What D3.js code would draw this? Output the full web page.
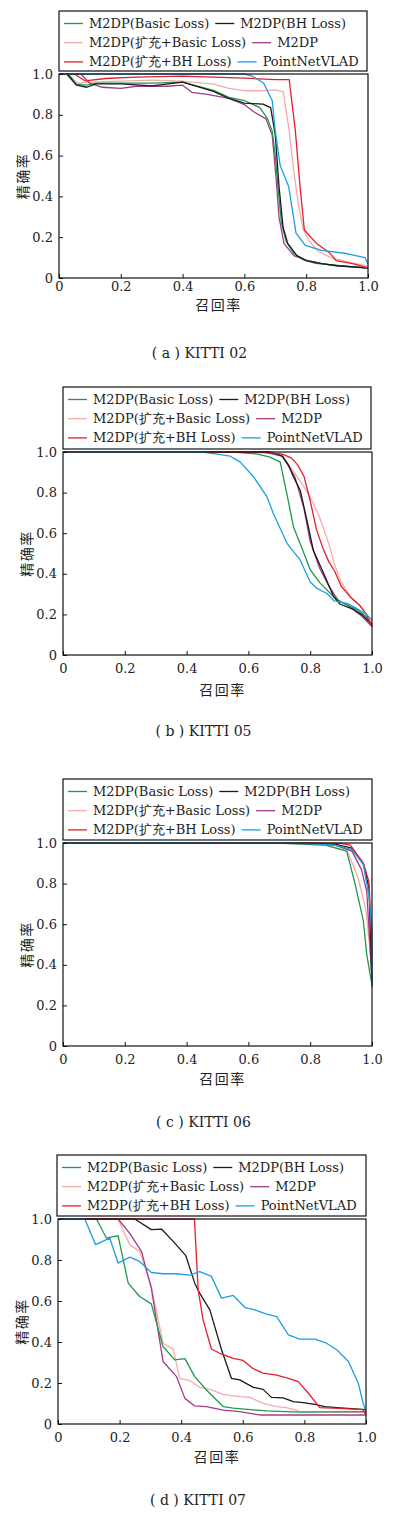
<!DOCTYPE html>
<html>
<head>
<meta charset="utf-8">
<script src="https://cdn.jsdelivr.net/npm/d3@7"></script>
<style>
  body { margin: 0; background: #fff; }
  svg { display: block; }
</style>
</head>
<body>
<svg id="chart" width="396" height="1514"></svg>
<script>
// Legend labels and colours (same for all four panels)
const seriesNames = ["M2DP(Basic Loss)", "M2DP(BH Loss)", "M2DP(扩充+Basic Loss)", "M2DP", "M2DP(扩充+BH Loss)", "PointNetVLAD"];
const seriesColors = ["#1f9a4c", "#1a1a1a", "#f5abab", "#a23a8c", "#e41f2b", "#1d9fe4"];
const xTicks = [0, 0.2, 0.4, 0.6, 0.8, 1.0];
const yTicks = [0, 0.2, 0.4, 0.6, 0.8, 1.0];

// KITTI 02  [recall, precision]
const k02Basic = [[0,1],[0.03,1],[0.055,0.95],[0.09,0.945],[0.12,0.955],[0.2,0.955],[0.3,0.955],[0.4,0.96],[0.5,0.92],[0.55,0.885],[0.6,0.87],[0.65,0.835],[0.675,0.78],[0.69,0.72],[0.7,0.6],[0.71,0.42],[0.72,0.27],[0.735,0.18],[0.76,0.12],[0.79,0.09],[0.83,0.072],[0.9,0.062],[1.0,0.05]];
const k02BH = [[0,1],[0.025,1],[0.057,0.945],[0.09,0.935],[0.12,0.952],[0.2,0.952],[0.3,0.942],[0.4,0.96],[0.5,0.915],[0.55,0.88],[0.6,0.857],[0.66,0.852],[0.685,0.835],[0.7,0.7],[0.712,0.45],[0.725,0.25],[0.74,0.17],[0.77,0.11],[0.8,0.085],[0.85,0.07],[0.9,0.06],[1.0,0.048]];
const k02ExtBasic = [[0,1],[0.03,1],[0.06,0.955],[0.1,0.96],[0.2,0.965],[0.3,0.97],[0.4,0.965],[0.5,0.95],[0.55,0.93],[0.6,0.918],[0.65,0.918],[0.7,0.922],[0.726,0.912],[0.745,0.72],[0.76,0.52],[0.775,0.36],[0.79,0.24],[0.81,0.18],[0.84,0.13],[0.88,0.1],[0.93,0.08],[1.0,0.058]];
const k02M2DP = [[0,1],[0.07,1],[0.1,0.955],[0.14,0.935],[0.2,0.93],[0.25,0.94],[0.3,0.94],[0.35,0.94],[0.4,0.945],[0.43,0.91],[0.48,0.9],[0.55,0.88],[0.6,0.85],[0.63,0.815],[0.67,0.78],[0.69,0.7],[0.702,0.5],[0.712,0.3],[0.728,0.17],[0.76,0.11],[0.8,0.088],[0.85,0.07],[0.9,0.06],[1.0,0.05]];
const k02ExtBH = [[0,1],[0.05,1],[0.085,0.966],[0.15,0.978],[0.25,0.985],[0.4,0.99],[0.5,0.985],[0.6,0.98],[0.7,0.972],[0.745,0.972],[0.765,0.72],[0.78,0.45],[0.794,0.235],[0.833,0.17],[0.876,0.123],[0.897,0.085],[0.95,0.07],[1.0,0.05]];
const k02PNV = [[0,1],[0.6,1],[0.625,0.99],[0.662,0.956],[0.69,0.87],[0.7,0.72],[0.716,0.55],[0.743,0.45],[0.767,0.22],[0.797,0.16],[0.85,0.135],[0.93,0.12],[0.99,0.1],[1.0,0.07]];

// KITTI 05
const k05Basic = [[0,1],[0.55,1],[0.63,0.99],[0.67,0.975],[0.703,0.95],[0.725,0.79],[0.746,0.63],[0.775,0.52],[0.8,0.42],[0.833,0.353],[0.876,0.287],[0.9,0.26],[0.95,0.225],[0.98,0.19],[1.0,0.15]];
const k05BH = [[0,1],[0.67,1],[0.71,0.98],[0.73,0.935],[0.746,0.877],[0.768,0.81],[0.79,0.66],[0.81,0.516],[0.844,0.4],[0.876,0.287],[0.897,0.25],[0.94,0.225],[0.97,0.195],[1.0,0.15]];
const k05ExtBasic = [[0,1],[0.6,1],[0.7,0.99],[0.74,0.92],[0.77,0.85],[0.8,0.78],[0.83,0.68],[0.86,0.55],[0.88,0.44],[0.9,0.36],[0.93,0.29],[0.96,0.245],[0.99,0.18],[1.0,0.145]];
const k05M2DP = [[0,1],[0.65,1],[0.71,0.98],[0.75,0.88],[0.78,0.72],[0.8,0.56],[0.83,0.43],[0.86,0.34],[0.89,0.27],[0.92,0.245],[0.96,0.2],[1.0,0.14]];
const k05ExtBH = [[0,1],[0.65,1],[0.71,0.99],[0.74,0.97],[0.76,0.935],[0.78,0.88],[0.8,0.76],[0.82,0.62],[0.84,0.53],[0.86,0.46],[0.88,0.41],[0.9,0.34],[0.93,0.285],[0.96,0.245],[0.98,0.205],[1.0,0.14]];
const k05PNV = [[0,1],[0.45,1],[0.5,0.99],[0.54,0.98],[0.574,0.95],[0.617,0.877],[0.66,0.78],[0.68,0.7],[0.725,0.55],[0.768,0.467],[0.8,0.36],[0.822,0.328],[0.854,0.303],[0.877,0.267],[0.92,0.254],[0.95,0.23],[0.984,0.197],[1.0,0.172]];

// KITTI 06
const k06Basic = [[0,1],[0.7,1],[0.85,0.99],[0.918,0.96],[0.945,0.8],[0.972,0.616],[0.983,0.45],[1.0,0.3]];
const k06BH = [[0,1],[0.75,1],[0.88,0.995],[0.935,0.975],[0.972,0.9],[0.99,0.78],[0.995,0.55],[1.0,0.3]];
const k06ExtBasic = [[0,1],[0.7,0.998],[0.85,0.99],[0.92,0.96],[0.955,0.83],[0.98,0.67],[0.992,0.5],[1.0,0.35]];
const k06M2DP = [[0,1],[0.75,1],[0.88,0.99],[0.935,0.96],[0.966,0.869],[0.983,0.76],[0.994,0.48],[1.0,0.32]];
const k06ExtBH = [[0,1],[0.8,1],[0.9,0.998],[0.93,0.99],[0.972,0.9],[0.99,0.81],[0.997,0.6],[1.0,0.29]];
const k06PNV = [[0,1],[0.75,1],[0.88,0.99],[0.935,0.967],[0.972,0.893],[0.991,0.73],[1.0,0.565],[1.0,0.3]];

// KITTI 07
const k07Basic = [[0,1],[0.125,1],[0.157,0.907],[0.195,0.919],[0.228,0.687],[0.265,0.622],[0.303,0.586],[0.341,0.378],[0.379,0.313],[0.412,0.319],[0.444,0.231],[0.482,0.166],[0.536,0.085],[0.569,0.077],[0.677,0.064],[0.785,0.058],[1.0,0.06]];
const k07BH = [[0,1],[0.249,1],[0.303,0.948],[0.336,0.951],[0.374,0.891],[0.415,0.821],[0.444,0.687],[0.46,0.638],[0.493,0.557],[0.531,0.362],[0.563,0.223],[0.59,0.215],[0.634,0.179],[0.666,0.169],[0.693,0.13],[0.731,0.127],[0.764,0.109],[0.796,0.104],[0.834,0.096],[0.867,0.085],[0.905,0.08],[1.0,0.07]];
const k07ExtBasic = [[0,1],[0.195,1],[0.233,0.875],[0.265,0.842],[0.303,0.671],[0.341,0.394],[0.374,0.365],[0.395,0.223],[0.428,0.212],[0.46,0.179],[0.498,0.166],[0.536,0.145],[0.59,0.134],[0.623,0.13],[0.666,0.101],[0.71,0.085],[0.742,0.08],[0.785,0.062],[1.0,0.055]];
const k07M2DP = [[0,1],[0.195,1],[0.233,0.93],[0.271,0.842],[0.303,0.663],[0.341,0.305],[0.385,0.231],[0.412,0.125],[0.444,0.088],[0.482,0.085],[0.536,0.068],[0.59,0.06],[0.655,0.044],[1.0,0.044]];
const k07ExtBH = [[0,1],[0.443,1],[0.455,0.655],[0.471,0.508],[0.498,0.366],[0.525,0.345],[0.569,0.32],[0.601,0.31],[0.634,0.27],[0.666,0.248],[0.71,0.238],[0.748,0.223],[0.78,0.207],[0.813,0.15],[0.85,0.08],[0.894,0.077],[0.96,0.073],[0.99,0.07],[1.0,0.045]];
const k07PNV = [[0,1],[0.087,1],[0.122,0.875],[0.168,0.907],[0.195,0.785],[0.233,0.814],[0.265,0.793],[0.303,0.739],[0.341,0.733],[0.385,0.733],[0.428,0.726],[0.46,0.743],[0.498,0.72],[0.531,0.614],[0.569,0.627],[0.607,0.568],[0.639,0.557],[0.677,0.536],[0.71,0.524],[0.748,0.435],[0.785,0.414],[0.834,0.414],[0.872,0.394],[0.905,0.362],[0.943,0.305],[0.975,0.199],[0.991,0.1],[1.0,0.065]];

// panel layout (pixel boxes)
const panels = [
  { L: 59, R: 368, T: 74, B: 278, lg: { L: 59, R: 367, T: 11, B: 71 }, tickY: 12.5, xlabY: 310, capY: 358,
    cap: "( a ) KITTI 02", data: [k02Basic, k02BH, k02ExtBasic, k02M2DP, k02ExtBH, k02PNV] },
  { L: 63, R: 372, T: 452, B: 655, lg: { L: 63, R: 371, T: 387, B: 449 }, tickY: 17.5, xlabY: 695, capY: 736,
    cap: "( b ) KITTI 05", data: [k05Basic, k05BH, k05ExtBasic, k05M2DP, k05ExtBH, k05PNV] },
  { L: 63, R: 372, T: 843, B: 1046, lg: { L: 63, R: 372, T: 779, B: 840 }, tickY: 17.5, xlabY: 1084, capY: 1127,
    cap: "( c ) KITTI 06", data: [k06Basic, k06BH, k06ExtBasic, k06M2DP, k06ExtBH, k06PNV] },
  { L: 58, R: 366, T: 1219, B: 1424, lg: { L: 57, R: 366, T: 1155, B: 1216 }, tickY: 17.5, xlabY: 1462, capY: 1505,
    cap: "( d ) KITTI 07", data: [k07Basic, k07BH, k07ExtBasic, k07M2DP, k07ExtBH, k07PNV] }
];

const drawOrder = [2, 3, 0, 1, 4, 5];
const serif = "'DejaVu Serif', 'Liberation Serif', serif";
const cjk = "'Noto Sans CJK SC', sans-serif";

const svg = d3.select("#chart");

panels.forEach(p => {
  const g = svg.append("g");
  const x = d3.scaleLinear().domain([0, 1]).range([p.L, p.R]);
  const y = d3.scaleLinear().domain([0, 1]).range([p.B, p.T]);

  // curves
  const line = d3.line().x(d => x(d[0])).y(d => y(d[1]));
  drawOrder.forEach(i => {
    g.append("path")
      .datum(p.data[i])
      .attr("d", line)
      .attr("fill", "none")
      .attr("stroke", seriesColors[i])
      .attr("stroke-width", 1.3)
      .attr("stroke-linejoin", "round");
  });

  // axes with inward ticks
  const xAxis = g.append("g")
    .attr("transform", `translate(0,${p.B})`)
    .call(d3.axisBottom(x).tickValues(xTicks).tickSize(-4).tickPadding(0)
      .tickFormat(d => d === 0 ? "0" : d3.format(".1f")(d)));
  xAxis.select(".domain").remove();
  xAxis.selectAll("text")
    .attr("y", p.tickY).attr("dy", 0)
    .attr("font-family", serif).attr("font-size", 13).attr("fill", "#222");

  const yAxis = g.append("g")
    .attr("transform", `translate(${p.L},0)`)
    .call(d3.axisLeft(y).tickValues(yTicks).tickSize(-4).tickPadding(6)
      .tickFormat(d => d === 0 ? "0" : d3.format(".1f")(d)));
  yAxis.select(".domain").remove();
  yAxis.selectAll("text")
    .attr("font-family", serif).attr("font-size", 13).attr("fill", "#222");
  g.selectAll(".tick line").attr("stroke", "#111");

  // frame
  g.append("rect")
    .attr("x", p.L).attr("y", p.T)
    .attr("width", p.R - p.L).attr("height", p.B - p.T)
    .attr("fill", "none").attr("stroke", "#111").attr("stroke-width", 1.2);

  // axis titles
  g.append("text")
    .attr("transform", `translate(${p.L - 31},${(p.T + p.B) / 2}) rotate(-90)`)
    .attr("text-anchor", "middle")
    .attr("font-family", cjk).attr("font-size", 14).attr("letter-spacing", 1.5)
    .attr("fill", "#222")
    .text("精确率");
  g.append("text")
    .attr("x", (p.L + p.R) / 2 + 5).attr("y", p.xlabY)
    .attr("text-anchor", "middle")
    .attr("font-family", cjk).attr("font-size", 14).attr("letter-spacing", 1.5)
    .attr("fill", "#222")
    .text("召回率");

  // caption
  g.append("text")
    .attr("x", (p.L + p.R) / 2 - 14).attr("y", p.capY)
    .attr("text-anchor", "middle")
    .attr("font-family", serif).attr("font-size", 14)
    .attr("fill", "#222")
    .text(p.cap);

  // legend box
  const lg = g.append("g");
  lg.append("rect")
    .attr("x", p.lg.L).attr("y", p.lg.T)
    .attr("width", p.lg.R - p.lg.L).attr("height", p.lg.B - p.lg.T)
    .attr("fill", "#fff").attr("stroke", "#111").attr("stroke-width", 1.2);

  [0, 1, 2].forEach(row => {
    const cy = p.lg.T + 12.5 + row * 19.2;
    let cx = p.lg.L + 5;
    [row * 2, row * 2 + 1].forEach(i => {
      lg.append("line")
        .attr("x1", cx).attr("x2", cx + 19)
        .attr("y1", cy).attr("y2", cy)
        .attr("stroke", seriesColors[i]).attr("stroke-width", 1.3);
      const t = lg.append("text")
        .attr("x", cx + 25).attr("y", cy + 4.5)
        .attr("font-family", serif).attr("font-size", 13)
        .attr("fill", "#222")
        .text(seriesNames[i]);
      cx = cx + 25 + t.node().getComputedTextLength() + 6;
    });
  });
});
</script>
</body>
</html>
